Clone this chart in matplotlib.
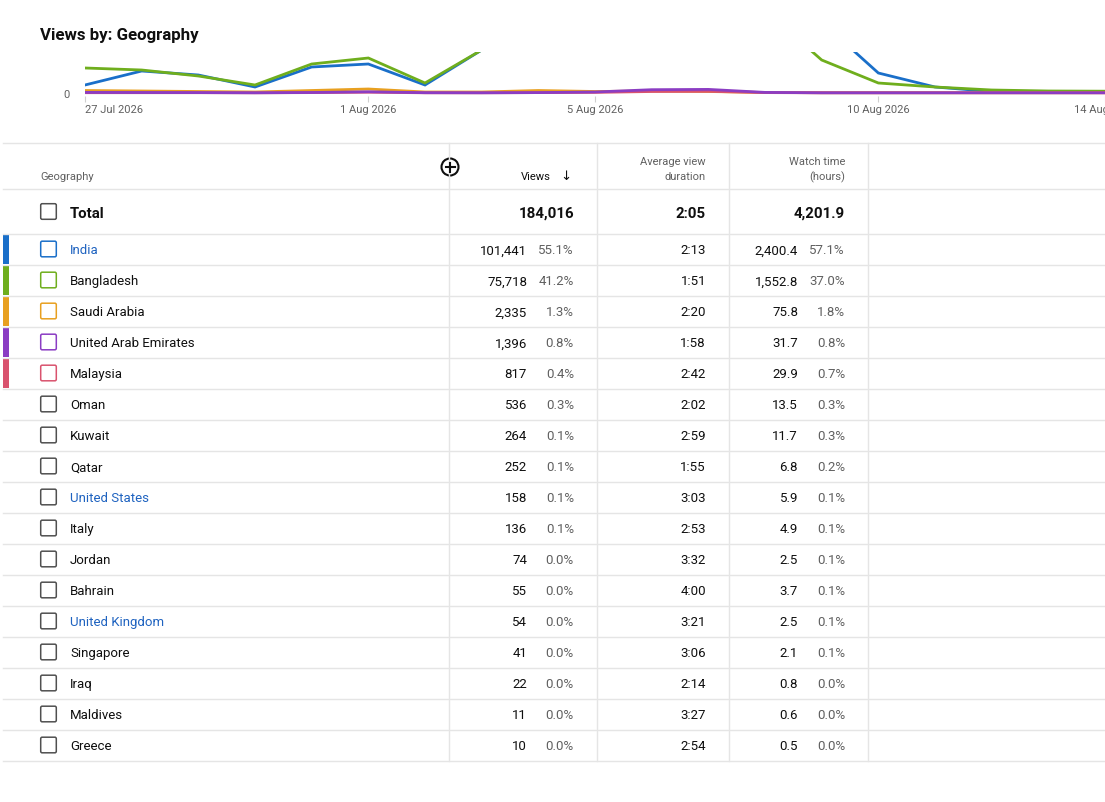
import matplotlib
matplotlib.use("Agg")
import matplotlib.pyplot as plt
from matplotlib.patches import Rectangle, Circle, FancyBboxPatch
import numpy as np
import pandas as pd

# ---------------- data ----------------
dates = ["2026-07-27", "2026-07-28", "2026-07-29", "2026-07-30", "2026-07-31",
         "2026-08-01", "2026-08-02", "2026-08-03", "2026-08-04", "2026-08-05",
         "2026-08-06", "2026-08-07", "2026-08-08", "2026-08-09", "2026-08-10",
         "2026-08-11", "2026-08-12", "2026-08-13", "2026-08-14"]
india_daily = [800, 2200, 1800, 600, 2600, 2900, 800, 4300, 12000, 18000,
               20000, 16000, 11000, 7100, 2000, 600, 150, 80, 60]
bangladesh_daily = [2500, 2300, 1700, 800, 2900, 3500, 1000, 4300, 9000, 13000,
                    12000, 10000, 8300, 3300, 1000, 600, 300, 200, 180]
saudi_daily = [250, 200, 150, 100, 250, 400, 100, 100, 250, 150,
               200, 150, 50, 30, 30, 30, 30, 30, 30]
uae_daily = [60, 50, 40, 20, 50, 120, 30, 20, 40, 100,
             330, 360, 60, 20, 20, 20, 20, 20, 20]
malaysia_daily = [30, 30, 30, 20, 40, 80, 20, 20, 40, 60,
                  150, 170, 40, 20, 20, 20, 20, 20, 20]

tick_dates = ["2026-07-27", "2026-08-01", "2026-08-05", "2026-08-10", "2026-08-14"]
tick_labels = ["27 Jul 2026", "1 Aug 2026", "5 Aug 2026", "10 Aug 2026", "14 Aug 2026"]

countries = ["India", "Bangladesh", "Saudi Arabia", "United Arab Emirates", "Malaysia",
             "Oman", "Kuwait", "Qatar", "United States", "Italy", "Jordan", "Bahrain",
             "United Kingdom", "Singapore", "Iraq", "Maldives", "Greece"]
views = ["101,441", "75,718", "2,335", "1,396", "817", "536", "264", "252", "158",
         "136", "74", "55", "54", "41", "22", "11", "10"]
views_pct = ["55.1%", "41.2%", "1.3%", "0.8%", "0.4%", "0.3%", "0.1%", "0.1%", "0.1%",
             "0.1%", "0.0%", "0.0%", "0.0%", "0.0%", "0.0%", "0.0%", "0.0%"]
avg_duration = ["2:13", "1:51", "2:20", "1:58", "2:42", "2:02", "2:59", "1:55", "3:03",
                "2:53", "3:32", "4:00", "3:21", "3:06", "2:14", "3:27", "2:54"]
watch_hours = ["2,400.4", "1,552.8", "75.8", "31.7", "29.9", "13.5", "11.7", "6.8", "5.9",
               "4.9", "2.5", "3.7", "2.5", "2.1", "0.8", "0.6", "0.5"]
watch_pct = ["57.1%", "37.0%", "1.8%", "0.8%", "0.7%", "0.3%", "0.3%", "0.2%", "0.1%",
             "0.1%", "0.1%", "0.1%", "0.1%", "0.1%", "0.0%", "0.0%", "0.0%"]
total_views = "184,016"
total_duration = "2:05"
total_watch = "4,201.9"
linked = ["India", "United States", "United Kingdom"]

# ---------------- style ----------------
plt.rcParams["font.family"] = ["Roboto", "DejaVu Sans"]
W, H = 1105, 803
fig = plt.figure(figsize=(W / 100, H / 100), dpi=100)
fig.patch.set_facecolor("white")

series_colors = ["#1a6fc9", "#6fae1d", "#e8a020", "#8b3dc3", "#d9536e"]
TXT = "#0f0f0f"
GRAY = "#606060"
LINE = "#e5e5e5"
LINK = "#1f63c0"

# ---------------- line chart ----------------
def px_axes(left, top, right, bottom):
    return [left / W, 1 - bottom / H, (right - left) / W, (bottom - top) / H]

ax = fig.add_axes(px_axes(85, 53, 1105, 97))
x = pd.to_datetime(dates)
series = [india_daily, bangladesh_daily, saudi_daily, malaysia_daily, uae_daily]
cols = [series_colors[0], series_colors[1], series_colors[2], series_colors[4], series_colors[3]]
for vals, c in zip(series, cols):
    ax.plot(x, vals, color=c, lw=2.0, solid_joinstyle="miter")
ax.set_xlim(pd.Timestamp(dates[0]), pd.Timestamp(tick_dates[-1]))
ax.set_ylim(-300, 4100)
for s in ax.spines.values():
    s.set_visible(False)
ax.set_facecolor("none")
ax.set_xticks(pd.to_datetime(tick_dates))
ax.set_xticklabels(tick_labels)
ax.tick_params(axis="x", length=4, color="#d0d0d0", labelsize=8, labelcolor=GRAY, pad=1.5)
for lbl in ax.get_xticklabels()[:1]:
    lbl.set_horizontalalignment("left")
ax.set_yticks([0])
ax.set_yticklabels(["0"])
ax.tick_params(axis="y", length=0, labelsize=8, labelcolor=GRAY, pad=11)

# ---------------- table overlay ----------------
ov = fig.add_axes([0, 0, 1, 1])
ov.set_xlim(0, W)
ov.set_ylim(H, 0)
ov.axis("off")
ov.set_facecolor("none")

ov.text(40, 40, "Views by: Geography", fontsize=12.2, fontweight="bold", color=TXT,
        ha="left", va="baseline")

# grid lines
ov.plot([3, W], [143.5, 143.5], color=LINE, lw=1)
ov.plot([3, W], [189.5, 189.5], color=LINE, lw=1)
row_h = 31
first_top = 234.5
n = len(countries)
for k in range(n + 1):
    yy = first_top + k * row_h
    ov.plot([3, W], [yy, yy], color=LINE, lw=1)
for xx in [449, 597, 729, 868]:
    ov.plot([xx, xx], [143.5, first_top + n * row_h], color=LINE, lw=1)

# header
hs = 8.0
ov.text(40, 180, "Geography", fontsize=hs, color=GRAY, ha="left", va="baseline")
ov.text(551, 180, "Views", fontsize=hs, color=TXT, ha="right", va="baseline")
ov.text(566, 180, "\u2193", fontsize=9.5, color=TXT, ha="center", va="baseline",
        family=["DejaVu Sans"])
ov.text(706, 165, "Average view", fontsize=hs, color=GRAY, ha="right", va="baseline")
ov.text(706, 180, "duration", fontsize=hs, color=GRAY, ha="right", va="baseline")
ov.text(845, 165, "Watch time", fontsize=hs, color=GRAY, ha="right", va="baseline")
ov.text(845, 180, "(hours)", fontsize=hs, color=GRAY, ha="right", va="baseline")
# plus icon
ov.add_patch(Circle((450, 168), 8.5, fill=False, ec=TXT, lw=1.5))
ov.plot([445.5, 454.5], [168, 168], color=TXT, lw=1.5)
ov.plot([450, 450], [163.5, 172.5], color=TXT, lw=1.5)

def checkbox(cx, cy, color):
    ov.add_patch(FancyBboxPatch((cx - 7.8, cy - 7.8), 15.6, 15.6,
                                boxstyle="round,pad=0,rounding_size=1.5",
                                fill=False, ec=color, lw=1.1))

# total row
ty = 212.5
checkbox(48.5, ty, "#505050")
ov.text(70, ty + 5.5, "Total", fontsize=10.8, fontweight="bold", color=TXT, ha="left", va="baseline")
ov.text(574, ty + 5.5, total_views, fontsize=10.8, fontweight="bold", color=TXT, ha="right", va="baseline")
ov.text(706, ty + 5.5, total_duration, fontsize=10.8, fontweight="bold", color=TXT, ha="right", va="baseline")
ov.text(845, ty + 5.5, total_watch, fontsize=10.8, fontweight="bold", color=TXT, ha="right", va="baseline")

fs = 9.5
for i in range(n):
    top = first_top + i * row_h
    cy = top + row_h / 2
    base = cy + 4.3
    if i < len(series_colors):
        ov.add_patch(Rectangle((3, top + 0.5), 6, row_h - 1, color=series_colors[i], lw=0))
        box_c = series_colors[i]
    else:
        box_c = "#505050"
    checkbox(48.5, cy, box_c)
    name_c = LINK if countries[i] in linked else TXT
    ov.text(70, base, countries[i], fontsize=fs, color=name_c, ha="left", va="baseline")
    ov.text(527, base, views[i], fontsize=fs, color=TXT, ha="right", va="baseline")
    ov.text(574, base, views_pct[i], fontsize=fs, color=GRAY, ha="right", va="baseline")
    ov.text(706, base, avg_duration[i], fontsize=fs, color=TXT, ha="right", va="baseline")
    ov.text(798, base, watch_hours[i], fontsize=fs, color=TXT, ha="right", va="baseline")
    ov.text(845, base, watch_pct[i], fontsize=fs, color=GRAY, ha="right", va="baseline")

fig.savefig("out.png", dpi=100, facecolor="white")
